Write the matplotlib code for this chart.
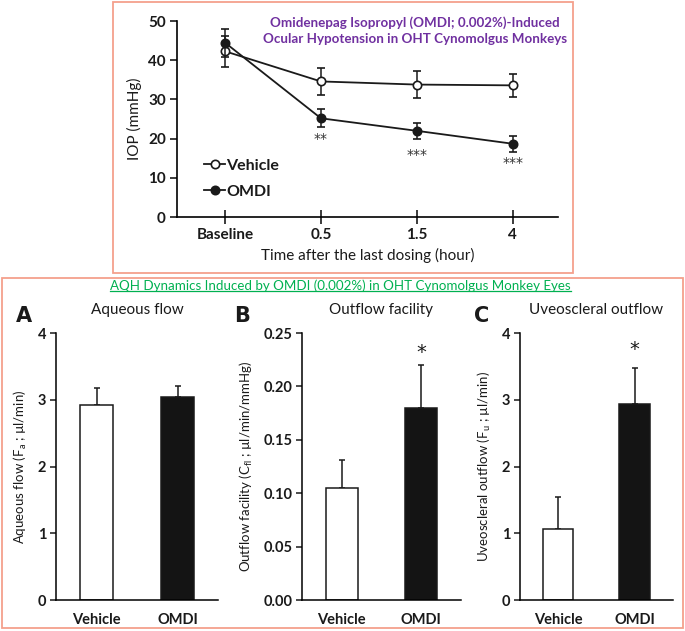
import numpy as np
import matplotlib
matplotlib.use('Agg')
import matplotlib.pyplot as plt
from matplotlib.patches import Rectangle
from matplotlib.lines import Line2D

plt.rcParams['font.family'] = ['Lato', 'DejaVu Sans']
plt.rcParams['text.color'] = '#1a1a1a'
plt.rcParams['axes.labelcolor'] = '#1a1a1a'
plt.rcParams['xtick.color'] = '#1a1a1a'
plt.rcParams['ytick.color'] = '#1a1a1a'

# IOP time course (top panel)
time_labels = ['Baseline', '0.5', '1.5', '4']
vehicle_iop = [42.3, 34.6, 33.8, 33.6]
vehicle_err = [3.9, 3.5, 3.4, 3.0]
omdi_iop = [44.5, 25.2, 22.0, 18.7]
omdi_err = [3.6, 2.3, 2.1, 2.1]
iop_stars = ['', '**', '***', '***']
iop_star_y = [0, 19.8, 15.8, 13.7]

# Aqueous humor dynamics (bottom panels)
groups = ['Vehicle', 'OMDI']
aqueous_flow = [2.93, 3.04]
aqueous_flow_err = [0.25, 0.17]
outflow_facility = [0.105, 0.180]
outflow_facility_err = [0.026, 0.040]
uveoscleral = [1.06, 2.94]
uveoscleral_err = [0.49, 0.54]

fig = plt.figure(figsize=(6.85, 6.31), dpi=100)

salmon = '#f4a08c'
# boxes around the two parts
fig.patches.append(Rectangle((0.165, 0.567), 0.672, 0.4295, transform=fig.transFigure,
                             fill=False, edgecolor=salmon, linewidth=1.3))
fig.patches.append(Rectangle((0.003, 0.005), 0.994, 0.5547, transform=fig.transFigure,
                             fill=False, edgecolor=salmon, linewidth=1.3))

# ---- top panel: IOP ----
ax = fig.add_axes([0.2584, 0.656, 0.556, 0.3106])
x = np.arange(len(time_labels))
ax.errorbar(x, vehicle_iop, yerr=vehicle_err, color='#1a1a1a', lw=1.3, marker='o',
            mfc='white', mec='#1a1a1a', ms=6, mew=1.2, capsize=3, elinewidth=1.1, zorder=3)
ax.errorbar(x, omdi_iop, yerr=omdi_err, color='#1a1a1a', lw=1.3, marker='o',
            mfc='#1a1a1a', mec='#1a1a1a', ms=6, mew=1.2, capsize=3, elinewidth=1.1, zorder=4)
for xi, s, ys in zip(x, iop_stars, iop_star_y):
    if s:
        ax.text(xi, ys, s, ha='center', va='center', fontsize=10, color='#333333',
                family='DejaVu Sans')
ax.set_xlim(-0.5, 3.47)
ax.set_ylim(0, 50)
ax.set_yticks(range(0, 51, 10))
ax.set_xticks(x)
ax.set_xticklabels(time_labels)
ax.tick_params(axis='x', direction='inout', length=10, width=1.2, labelsize=11, pad=3)
ax.tick_params(axis='y', direction='out', length=5, width=1.2, labelsize=11, pad=3)
for lab in ax.get_xticklabels() + ax.get_yticklabels():
    lab.set_fontweight('bold')
ax.spines['top'].set_visible(False)
ax.spines['right'].set_visible(False)
ax.spines['left'].set_linewidth(1.2)
ax.spines['bottom'].set_linewidth(1.2)
ax.set_ylabel('IOP (mmHg)', fontsize=11, labelpad=4)
ax.set_xlabel('Time after the last dosing (hour)', fontsize=11, labelpad=4)
handles = [Line2D([], [], color='#1a1a1a', lw=1.3, marker='o', mfc='white', mec='#1a1a1a', ms=6, mew=1.2),
           Line2D([], [], color='#1a1a1a', lw=1.3, marker='o', mfc='#1a1a1a', mec='#1a1a1a', ms=6, mew=1.2)]
leg = ax.legend(handles, ['Vehicle', 'OMDI'], loc='lower left', bbox_to_anchor=(0.055, 0.06),
                frameon=False, fontsize=11.5, handlelength=1.3, handletextpad=0.05,
                labelspacing=0.75, borderaxespad=0)
for t in leg.get_texts():
    t.set_fontweight('bold')
fig.text(0.606, 0.952, 'Omidenepag Isopropyl (OMDI; 0.002%)-Induced\nOcular Hypotension in OHT Cynomolgus Monkeys',
         ha='center', va='center', color='#7030a0', fontsize=9.6, fontweight='bold', linespacing=1.4)

# ---- bottom panels ----
green = '#00b050'
gt = fig.text(0.497, 0.547, 'AQH Dynamics Induced by OMDI (0.002%) in OHT Cynomolgus Monkey Eyes',
              ha='center', va='center', color=green, fontsize=9.6)
fig.canvas.draw()
bb = gt.get_window_extent().transformed(fig.transFigure.inverted())
fig.lines.append(Line2D([bb.x0, bb.x1], [bb.y0 + 0.001, bb.y0 + 0.001], transform=fig.transFigure,
                        color=green, linewidth=0.9))

panels = [
    ('A', 'Aqueous flow', r'Aqueous flow (F$_\mathregular{a}$ ; µl/min)', aqueous_flow, aqueous_flow_err,
     [0.0818, 0.2365], (0, 4), [0, 1, 2, 3, 4], '{:.0f}', None),
    ('B', 'Outflow facility', r'Outflow facility (C$_\mathregular{fl}$ ; µl/min/mmHg)', outflow_facility,
     outflow_facility_err, [0.4409, 0.232], (0, 0.25), [0, 0.05, 0.10, 0.15, 0.20, 0.25], '{:.2f}', 0.232),
    ('C', 'Uveoscleral outflow', r'Uveoscleral outflow (F$_\mathregular{u}$ ; µl/min)', uveoscleral,
     uveoscleral_err, [0.759, 0.2234], (0, 4), [0, 1, 2, 3, 4], '{:.0f}', 3.76),
]
letter_x = [24, 242, 482]
for (letter, title, ylabel, vals, errs, (left, width), ylim, yticks, fmt, star_y), lx in zip(panels, letter_x):
    a = fig.add_axes([left, 0.0491, width, 0.423])
    bx = np.arange(len(groups))
    a.bar(bx, vals, width=0.4, color=['white', '#141414'], edgecolor='#1a1a1a', linewidth=1.1, zorder=2)
    a.errorbar(bx, vals, yerr=[[0, 0], errs], fmt='none', ecolor='#1a1a1a', elinewidth=1.1,
               capsize=2.5, capthick=1.1, zorder=1)
    if star_y is not None:
        a.text(1, star_y, '*', ha='center', va='center', fontsize=14, color='#1a1a1a',
               family='DejaVu Sans')
    a.set_xlim(-0.5, 1.5)
    a.set_ylim(*ylim)
    a.set_yticks(yticks)
    a.set_yticklabels([fmt.format(v) for v in yticks])
    a.set_xticks(bx)
    a.set_xticklabels(groups)
    a.tick_params(axis='x', length=0, labelsize=10.5, pad=9)
    a.tick_params(axis='y', direction='out', length=4, width=1.1, labelsize=10.5, pad=3)
    for lab in a.get_xticklabels() + a.get_yticklabels():
        lab.set_fontweight('bold')
    a.spines['top'].set_visible(False)
    a.spines['right'].set_visible(False)
    a.spines['left'].set_linewidth(1.1)
    a.spines['bottom'].set_linewidth(1.1)
    a.set_ylabel(ylabel, fontsize=9.5, labelpad=6)
    a.set_title(title, fontsize=11, pad=14)
    fig.text(lx / 685, 1 - 316 / 631, letter, ha='center', va='center', fontsize=15,
             fontweight='bold', family='DejaVu Sans')

fig.savefig('out.png', dpi=100)
